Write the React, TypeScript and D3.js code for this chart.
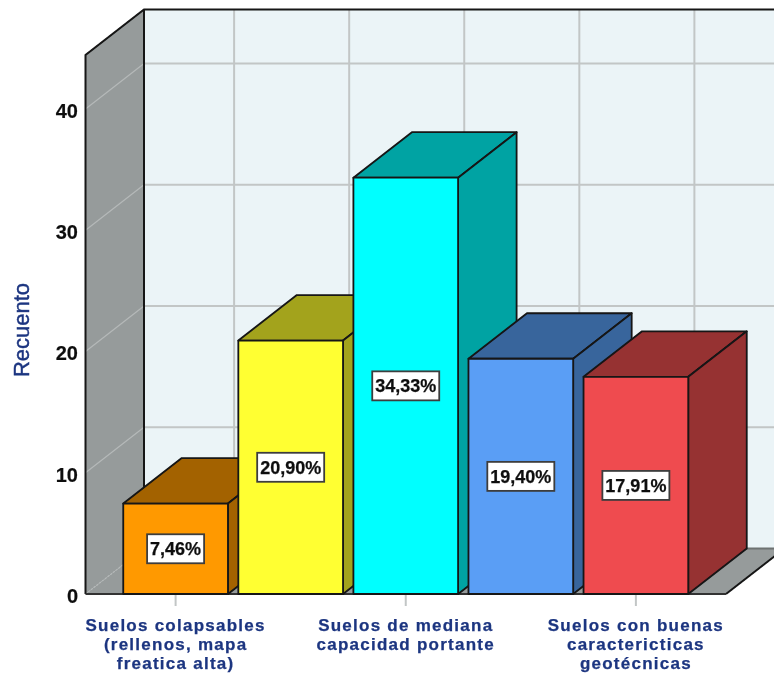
import React from "react";
import * as d3 from "d3";

const categories = ["cat1", "cat2", "cat3", "cat4", "cat5"];
const values = [7.46, 20.9, 34.33, 19.4, 17.91];
const valueLabels = ["7,46%", "20,90%", "34,33%", "19,40%", "17,91%"];
const frontColors = ["#ff9900", "#ffff33", "#00ffff", "#5a9ef5", "#ef4c4f"];
const sideColors = ["#a36200", "#a3a31f", "#00a3a3", "#39659c", "#963033"];
const yTicks = [0, 10, 20, 30, 40];
const axisLabels = [
  { at: "cat1", lines: ["Suelos colapsables", "(rellenos, mapa", "freatica alta)"] },
  { at: "cat3", lines: ["Suelos de mediana", "capacidad portante"] },
  { at: "cat5", lines: ["Suelos con buenas", "caractericticas", "geotécnicas"] },
];

const W = 774, H = 675;
const DX = 58.5, DY = -45.5;
const y = d3.scaleLinear().domain([0, 44.45]).range([594, 55]);
const x = d3.scaleBand<string>().domain(categories).range([117.5, 694]).paddingInner(0.09).paddingOuter(0.05);
const INK = "#141414";
const SANS = "'Liberation Sans', Arial, sans-serif";

function poly(pts: [number, number][]) {
  return pts.map((p) => p.join(",")).join(" ");
}

export default function App() {
  const y0 = y(0);
  const yTop = y(44.45);
  const xL = 85.5;
  const xR = 726;
  const bw = x.bandwidth();
  return (
    <svg width={W} height={H} viewBox={`0 0 ${W} ${H}`} style={{ position: "absolute", left: 0, top: 0, display: "block" }}>
      <defs>
        <filter id="soft" x="-5%" y="-5%" width="110%" height="110%">
          <feGaussianBlur stdDeviation="0.4" />
        </filter>
      </defs>
      <rect width={W} height={H} fill="#fff" />
      <g filter="url(#soft)">
        <rect x={xL + DX} y={yTop + DY} width={W - xL - DX + 20} height={y0 - yTop} fill="#ebf4f7" />
        <polygon points={poly([[xL, y0], [xL + DX, y0 + DY], [xL + DX, yTop + DY], [xL, yTop]])} fill="#969b9b" />
        <polygon points={poly([[xL, y0], [xR, y0], [xR + DX, y0 + DY], [xL + DX, y0 + DY]])} fill="#969b9b" />
        {yTicks.map((t) => (
          <g key={t}>
            <line x1={xL + DX} x2={W + 20} y1={y(t) + DY} y2={y(t) + DY} stroke={t === 0 ? "#6e7272" : "#c2c6c6"} strokeWidth={2} />
            <line x1={xL} x2={xL + DX} y1={y(t)} y2={y(t) + DY} stroke="#b5b9b9" strokeWidth={1.2} strokeDasharray={t === 0 ? "2 1.5" : undefined} />
          </g>
        ))}
        {categories.map((c) => {
          const cx = (x(c) as number) + bw / 2 + DX;
          return <line key={c} x1={cx} x2={cx} y1={yTop + DY} y2={y0 + DY} stroke="#c2c6c6" strokeWidth={2} />;
        })}
        <polyline points={poly([[xL, y0], [xL, yTop], [xL + DX, yTop + DY], [W + 20, yTop + DY]])} fill="none" stroke={INK} strokeWidth={2} />
        <line x1={xL + DX} x2={xL + DX} y1={yTop + DY} y2={y0 + DY} stroke={INK} strokeWidth={2} />
        <line x1={xR} x2={xR + DX} y1={y0} y2={y0 + DY} stroke={INK} strokeWidth={2} />
        <line x1={xL} x2={xR} y1={y0} y2={y0} stroke="#333" strokeWidth={2} />

        {axisLabels.map((a) => {
          const cx = (x(a.at) as number) + bw / 2;
          return <line key={a.at} x1={cx} x2={cx} y1={y0 + 1} y2={y0 + 12} stroke="#c2c6c6" strokeWidth={2} />;
        })}

        {categories.map((c, i) => {
          const l = x(c) as number;
          const r = l + bw;
          const t = y(values[i]);
          return (
            <g key={c} stroke={INK} strokeWidth={1.8} strokeLinejoin="round">
              <polygon points={poly([[l, t], [l + DX, t + DY], [r + DX, t + DY], [r, t]])} fill={sideColors[i]} />
              <polygon points={poly([[r, y0], [r + DX, y0 + DY], [r + DX, t + DY], [r, t]])} fill={sideColors[i]} />
              <rect x={l} y={t} width={bw} height={y0 - t} fill={frontColors[i]} />
            </g>
          );
        })}

        {categories.map((c, i) => {
          const cx = (x(c) as number) + bw / 2;
          const cy = (y(values[i]) + y0) / 2;
          const w = valueLabels[i].length === 5 ? 57 : 67;
          return (
            <g key={c}>
              <rect x={cx - w / 2} y={cy - 14.5} width={w} height={29} fill="#fff" stroke="#3c3c3c" strokeWidth={1.8} />
              <text x={cx} y={cy + 6.5} textAnchor="middle" fontFamily={SANS} fontWeight="bold" fontSize={18} fill="#111" stroke="#111" strokeWidth={0.25}>
                {valueLabels[i]}
              </text>
            </g>
          );
        })}

        {yTicks.map((t) => (
          <text key={t} x={78} y={y(t) + 9} textAnchor="end" fontFamily={SANS} fontWeight="bold" fontSize={20} fill="#111" stroke="#111" strokeWidth={0.2}>
            {t}
          </text>
        ))}

        <text
          transform="translate(29,330) rotate(-90)"
          textAnchor="middle"
          fontFamily={SANS}
          fontSize={22}
          fill="#1c3580"
          stroke="#1c3580"
          strokeWidth={0.4}
        >
          Recuento
        </text>

        {axisLabels.map((a) => {
          const cx = (x(a.at) as number) + bw / 2;
          return (
            <text key={a.at} textAnchor="middle" fontFamily={SANS} fontWeight="bold" fontSize={17} letterSpacing={1.25} fill="#1c3580" stroke="#1c3580" strokeWidth={0.25}>
              {a.lines.map((ln, j) => (
                <tspan key={j} x={cx} y={631 + j * 19}>
                  {ln}
                </tspan>
              ))}
            </text>
          );
        })}
      </g>
    </svg>
  );
}
